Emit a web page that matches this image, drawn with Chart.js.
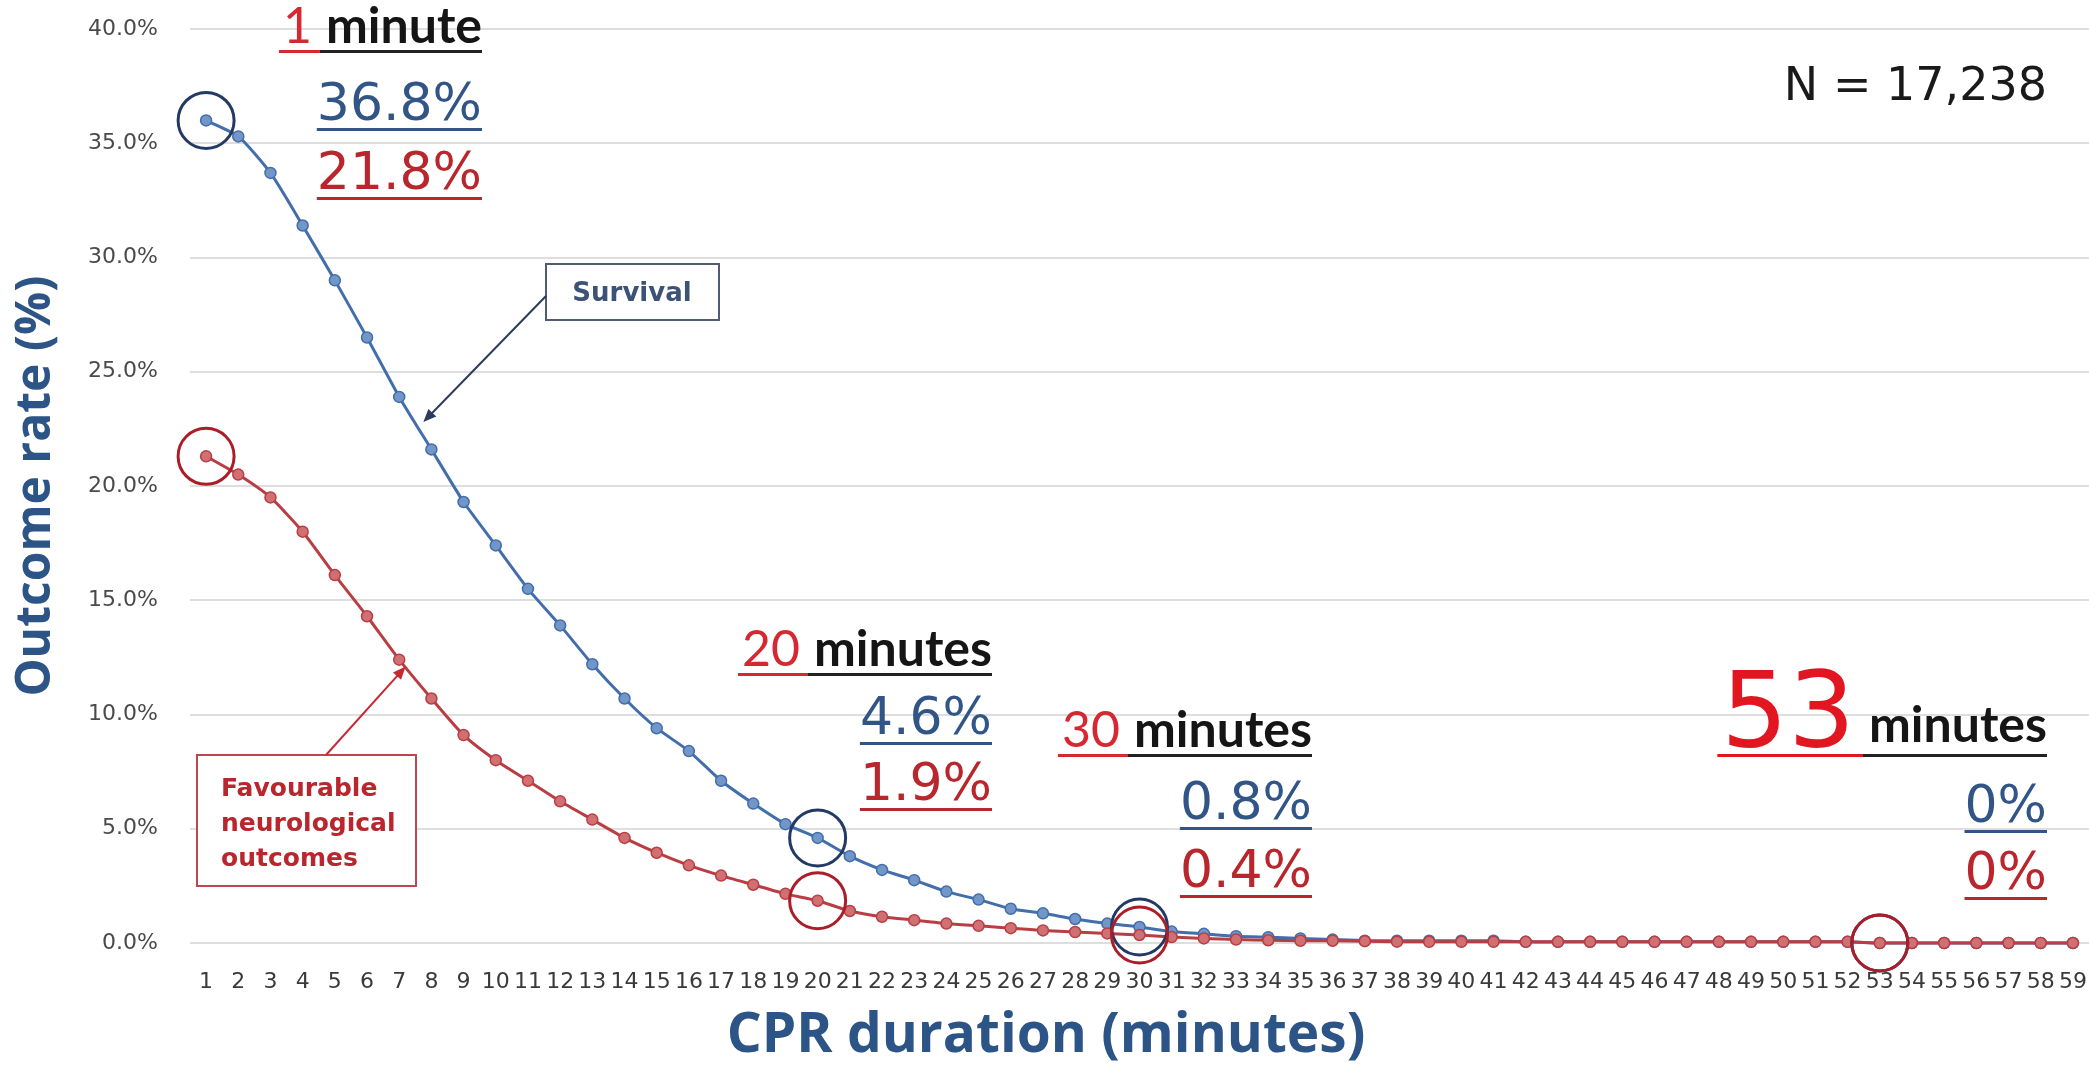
<!DOCTYPE html>
<html>
<head>
<meta charset="utf-8">
<script src="https://cdn.jsdelivr.net/npm/chart.js@4.4.1/dist/chart.umd.min.js"></script>
<style>
  html, body { margin: 0; padding: 0; background: #fff; overflow: hidden; }
  canvas { display: block; }
</style>
</head>
<body>
<canvas id="chart" width="2089" height="1070"></canvas>
<script>
const minutes = ['1', '2', '3', '4', '5', '6', '7', '8', '9', '10',
  '11', '12', '13', '14', '15', '16', '17', '18', '19', '20',
  '21', '22', '23', '24', '25', '26', '27', '28', '29', '30',
  '31', '32', '33', '34', '35', '36', '37', '38', '39', '40',
  '41', '42', '43', '44', '45', '46', '47', '48', '49', '50',
  '51', '52', '53', '54', '55', '56', '57', '58', '59']

const survival = [36.0, 35.3, 33.7, 31.4, 29.0, 26.5, 23.9, 21.6, 19.3, 17.4,
  15.5, 13.9, 12.2, 10.7, 9.4, 8.4, 7.1, 6.1, 5.2, 4.6,
  3.8, 3.2, 2.75, 2.25, 1.9, 1.5, 1.3, 1.05, 0.85, 0.7,
  0.5, 0.4, 0.3, 0.25, 0.2, 0.15, 0.1, 0.1, 0.1, 0.1,
  0.1, 0.05, 0.05, 0.05, 0.05, 0.05, 0.05, 0.05, 0.05, 0.05,
  0.05, 0.05, 0, 0, 0, 0, 0, 0, 0]

const favourable = [21.3, 20.5, 19.5, 18.0, 16.1, 14.3, 12.4, 10.7, 9.1, 8.0,
  7.1, 6.2, 5.4, 4.6, 3.95, 3.4, 2.95, 2.55, 2.15, 1.85,
  1.4, 1.15, 1.0, 0.85, 0.75, 0.65, 0.55, 0.48, 0.42, 0.35,
  0.26, 0.2, 0.15, 0.12, 0.1, 0.1, 0.08, 0.06, 0.05, 0.05,
  0.05, 0.05, 0.05, 0.05, 0.05, 0.05, 0.05, 0.05, 0.05, 0.05,
  0.05, 0.05, 0, 0, 0, 0, 0, 0, 0]

// circled minutes and the values written next to them
const calloutMinutes = ['1', '20', '30', '53']
const calloutWords = ['minute', 'minutes', 'minutes', 'minutes']
const calloutSurvival = ['36.8%', '4.6%', '0.8%', '0%']
const calloutFavourable = ['21.8%', '1.9%', '0.4%', '0%']

const sampleSize = 'N = 17,238'
const survivalLabel = 'Survival'
const favourableLabel = ['Favourable', 'neurological', 'outcomes']
const xTitle = 'CPR duration (minutes)'

const blueLine = 'rgb(66, 110, 172)'
const bluePoint = 'rgb(115, 150, 200)'
const blueText = 'rgb(50, 85, 135)'
const redLine = 'rgb(185, 62, 68)'
const redPoint = 'rgb(208, 112, 114)'
const redText = 'rgb(185, 38, 45)'
const titleBlue = 'rgb(44, 84, 134)'

const circled = series => minutes.map((m, i) => calloutMinutes.includes(m) ? series[i] : null)

// pixel layout of the text blocks
const calloutLayout = [
  { right: 482, head: 43, v1: 120, v2: 189, numSize: 50, numColor: 'rgb(215, 40, 50)' },
  { right: 992, head: 666, v1: 734, v2: 800, numSize: 50, numColor: 'rgb(215, 40, 50)' },
  { right: 1312, head: 747, v1: 819, v2: 887, numSize: 50, numColor: 'rgb(215, 40, 50)' },
  { right: 2047, head: 747, v1: 822, v2: 889, numSize: 105, numColor: 'rgb(226, 22, 32)', numFont: 'DejaVu Sans' }
]

const drawArrow = (ctx, x1, y1, x2, y2, color) => {
  const angle = Math.atan2(y2 - y1, x2 - x1)
  const len = 14

  ctx.strokeStyle = color
  ctx.fillStyle = color
  ctx.lineWidth = 2
  ctx.beginPath()
  ctx.moveTo(x1, y1)
  ctx.lineTo(x2 - Math.cos(angle) * len * 0.8, y2 - Math.sin(angle) * len * 0.8)
  ctx.stroke()

  ctx.beginPath()
  ctx.moveTo(x2, y2)
  ctx.lineTo(x2 - len * Math.cos(angle - 0.4), y2 - len * Math.sin(angle - 0.4))
  ctx.lineTo(x2 - len * Math.cos(angle + 0.4), y2 - len * Math.sin(angle + 0.4))
  ctx.closePath()
  ctx.fill()
}

const annotations = {
  id: 'annotations',
  afterDraw(chart) {
    const { ctx, scales: { x, y } } = chart

    ctx.save()
    ctx.textBaseline = 'alphabetic'

    calloutMinutes.forEach((m, i) => {
      const lay = calloutLayout[i]

      ctx.font = 'bold 50px Lato'
      const wordW = ctx.measureText(calloutWords[i]).width
      ctx.font = `${lay.numSize}px ${lay.numFont || 'Lato'}`
      const numW = ctx.measureText(m).width
      const gap = 14
      const wordLeft = lay.right - wordW
      const numLeft = wordLeft - gap - numW

      ctx.textAlign = 'left'
      ctx.fillStyle = lay.numColor
      ctx.fillText(m, numLeft, lay.head)
      ctx.font = 'bold 50px Lato'
      ctx.fillStyle = '#151515'
      ctx.fillText(calloutWords[i], wordLeft, lay.head - (lay.numSize > 60 ? 5 : 0))

      ctx.fillStyle = lay.numColor
      ctx.fillRect(numLeft - 4, lay.head + 7, wordLeft - numLeft - 2, 3)
      ctx.fillStyle = '#222'
      ctx.fillRect(wordLeft - 6, lay.head + 7, wordW + 6, 3)

      ctx.font = '52px "DejaVu Sans"'
      ctx.textAlign = 'right'
      ;[[calloutSurvival[i], lay.v1, blueText], [calloutFavourable[i], lay.v2, redText]].forEach(([t, base, color]) => {
        const w = ctx.measureText(t).width
        ctx.fillStyle = color
        ctx.fillText(t, lay.right, base)
        ctx.fillRect(lay.right - w, base + 8, w, 3)
      })
    })

    ctx.font = '46px "DejaVu Sans"'
    ctx.textAlign = 'right'
    ctx.fillStyle = '#1a1a1a'
    ctx.fillText(sampleSize, 2047, 100)

    // x axis title, sits left of the plot centre in the original
    ctx.font = 'bold 55px "Open Sans"'
    ctx.textAlign = 'center'
    ctx.textBaseline = 'middle'
    ctx.fillStyle = titleBlue
    ctx.fillText(xTitle, 1046, 1036)
    ctx.textBaseline = 'alphabetic'

    // Survival box
    ctx.fillStyle = '#fff'
    ctx.fillRect(546, 264, 173, 56)
    ctx.strokeStyle = 'rgb(80, 92, 115)'
    ctx.lineWidth = 2
    ctx.strokeRect(546, 264, 173, 56)
    ctx.font = 'bold 26px "DejaVu Sans"'
    ctx.textAlign = 'center'
    ctx.fillStyle = 'rgb(60, 82, 118)'
    ctx.fillText(survivalLabel, 632, 301)
    drawArrow(ctx, 546, 296, x.getPixelForValue(6.75), y.getPixelForValue(22.8), 'rgb(45, 60, 90)')

    // Favourable box
    ctx.fillStyle = '#fff'
    ctx.fillRect(197, 755, 219, 131)
    ctx.strokeStyle = 'rgb(190, 70, 78)'
    ctx.strokeRect(197, 755, 219, 131)
    ctx.font = 'bold 25px "DejaVu Sans"'
    ctx.textAlign = 'left'
    ctx.fillStyle = redText
    favourableLabel.forEach((t, i) => ctx.fillText(t, 221, 796 + i * 35))
    drawArrow(ctx, 326, 755, x.getPixelForValue(6.2), y.getPixelForValue(12.1), 'rgb(200, 40, 50)')

    ctx.restore()
  }
}

new Chart(document.getElementById('chart'), {
  type: 'line',
  data: {
    labels: minutes,
    datasets: [
      {
        label: 'Favourable circle',
        data: circled(favourable),
        showLine: false,
        clip: false,
        pointRadius: 28,
        pointBorderWidth: 3,
        pointBorderColor: 'rgb(170, 30, 42)',
        pointBackgroundColor: 'rgba(0,0,0,0)',
        order: 0
      },
      {
        label: 'Survival circle',
        data: circled(survival),
        showLine: false,
        clip: false,
        pointRadius: 28,
        pointBorderWidth: 3,
        pointBorderColor: 'rgb(35, 58, 100)',
        pointBackgroundColor: 'rgba(0,0,0,0)',
        order: 1
      },
      {
        label: 'Favourable neurological outcomes',
        data: favourable,
        clip: false,
        borderColor: redLine,
        borderWidth: 3,
        pointRadius: 5.5,
        pointBackgroundColor: redPoint,
        pointBorderColor: redLine,
        pointBorderWidth: 1.5,
        tension: 0.2,
        order: 2
      },
      {
        label: 'Survival',
        data: survival,
        clip: false,
        borderColor: blueLine,
        borderWidth: 3,
        pointRadius: 5.5,
        pointBackgroundColor: bluePoint,
        pointBorderColor: blueLine,
        pointBorderWidth: 1.5,
        tension: 0.2,
        order: 3
      }
    ]
  },
  options: {
    responsive: false,
    animation: false,
    devicePixelRatio: 1,
    layout: { autoPadding: false, padding: { top: 29, right: 0, left: 0, bottom: 0 } },
    plugins: {
      legend: { display: false },
      tooltip: { enabled: false }
    },
    scales: {
      x: {
        offset: true,
        grid: { display: true, drawOnChartArea: false, drawTicks: true, tickLength: 24, tickColor: 'rgba(0,0,0,0)' },
        border: { display: false },
        ticks: {
          autoSkip: false,
          maxRotation: 0,
          minRotation: 0,
          padding: 2,
          color: '#3a3a3a',
          font: { family: 'DejaVu Sans', size: 22 }
        },
        afterFit: scale => { scale.height = 127 }
      },
      y: {
        min: 0,
        max: 40,
        grid: { color: '#dedede', lineWidth: 2, drawTicks: true, tickLength: 29, tickColor: 'rgba(0,0,0,0)' },
        border: { display: false },
        ticks: {
          stepSize: 5,
          padding: 3,
          color: '#4a4a4a',
          font: { family: 'DejaVu Sans', size: 22 },
          callback: v => v.toFixed(1) + '%'
        },
        title: {
          display: true,
          text: 'Outcome rate (%)',
          color: titleBlue,
          font: { family: 'Open Sans', size: 48, weight: 'bold' },
          padding: { top: 8, bottom: 0 }
        },
        afterFit: scale => { scale.width = 190 }
      }
    }
  },
  plugins: [annotations]
})
</script>
</body>
</html>
